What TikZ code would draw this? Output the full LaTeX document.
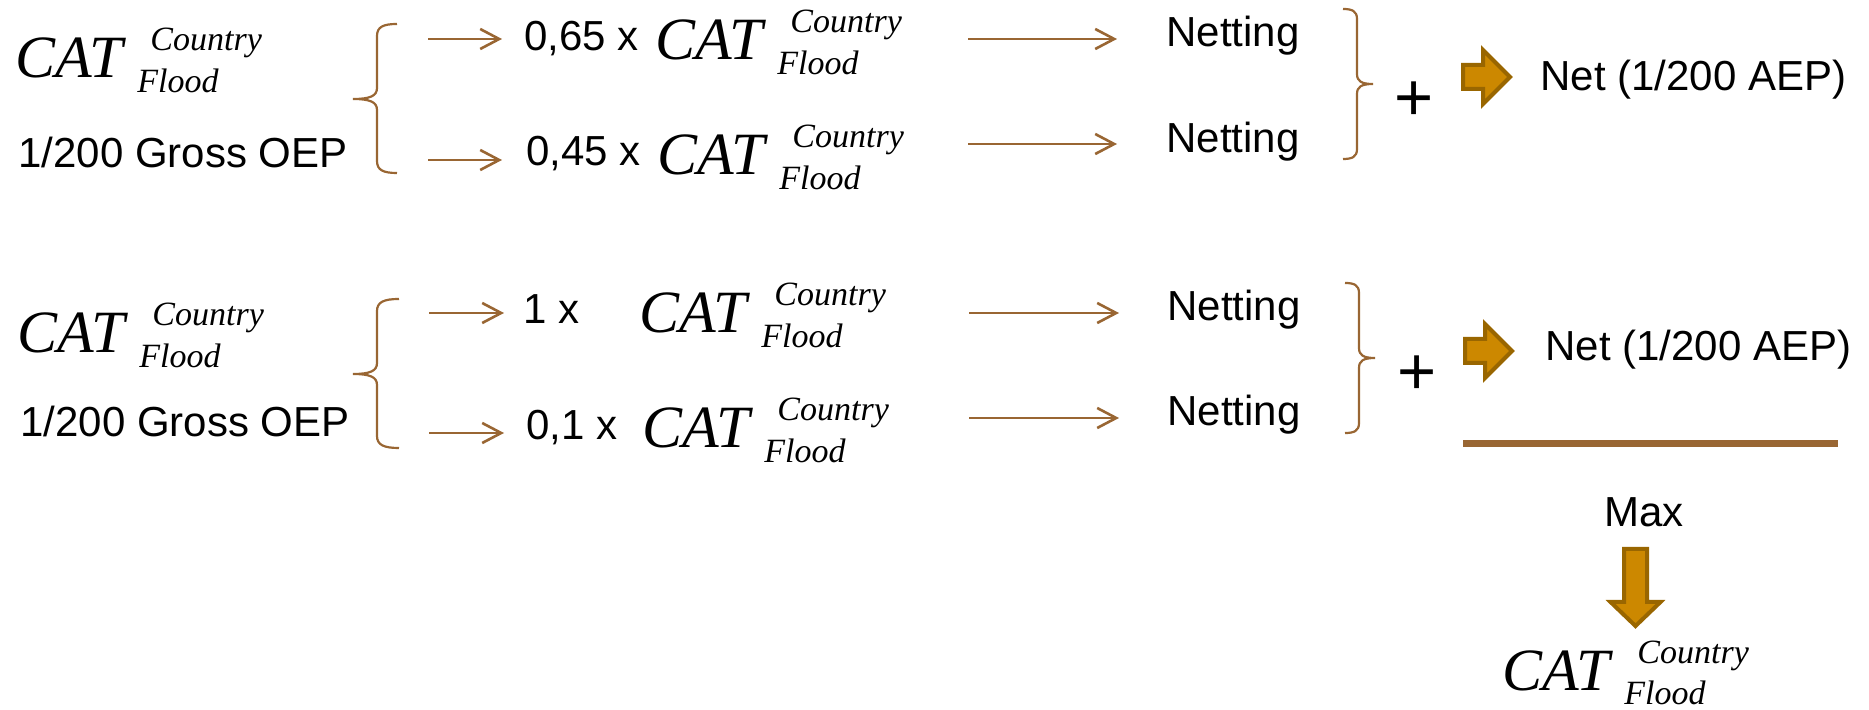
\documentclass[tikz,border=0pt]{standalone}
\usepackage{fontspec}
\setmainfont{Liberation Sans}
\newfontfamily\catfam{Liberation Serif}
\usetikzlibrary{arrows.meta}
\definecolor{brn}{RGB}{153,102,51}
\definecolor{gold}{RGB}{204,136,0}
\definecolor{goldedge}{RGB}{153,102,0}
\newcommand\sansfs{\fontsize{21pt}{25pt}\selectfont}
\newcommand\catbig{\catfam\itshape\fontsize{30pt}{30pt}\selectfont}
\newcommand\catsmall{\catfam\itshape\fontsize{17pt}{17pt}\selectfont}
\newcommand\catexpr{\makebox[0pt][l]{\catbig CAT}\makebox[0pt][l]{\hspace*{67.5pt}\raisebox{13.5pt}{\catsmall Country}}\hspace*{61pt}\raisebox{-7.25pt}{\catsmall Flood}}
\tikzset{
  txt/.style={anchor=base west, inner sep=0pt, font=\sansfs},
  catn/.style={anchor=base west, inner sep=0pt},
  plusn/.style={anchor=base, inner sep=0pt, font=\fontsize{33.5pt}{36pt}\selectfont},
  conn/.style={draw=brn, line width=1.3pt, -{Straight Barb[length=9.5pt,width=10pt]}},
  bracen/.style={draw=brn, line width=1.1pt},
  fatarrow/.style={fill=gold, draw=goldedge, line width=2pt, miter limit=10},
  thickline/.style={draw=brn, line width=3.5pt}
}
\begin{document}
\begin{tikzpicture}[x=0.5pt,y=-0.5pt]
\useasboundingbox (0,0) rectangle (1869,710);

% ---------- row 1 ----------
\node[catn] (cat1) at (15,78) {\catexpr};
\node[txt] (gross1) at (18,168) {1/200 Gross OEP};
\draw[bracen] (397,24) .. controls (383,24) and (377,27) .. (377,36) -- (377,88)
  .. controls (377,96) and (370,99) .. (353,99)
  .. controls (370,99) and (377,102) .. (377,110) -- (377,161)
  .. controls (377,170) and (383,173) .. (397,173);
\coordinate (a1s) at (428,39);  \coordinate (a1e) at (502,39);
\coordinate (a2s) at (428,160); \coordinate (a2e) at (502,160);
\draw[conn] (a1s) -- (a1e);
\draw[conn] (a2s) -- (a2e);
\node[txt] (m65) at (524,51) {0,65 x};
\node[catn] (c65) at (655,60) {\catexpr};
\node[txt] (m45) at (526,166) {0,45 x};
\node[catn] (c45) at (657,175) {\catexpr};
\coordinate (b1s) at (968,39);  \coordinate (b1e) at (1117,39);
\coordinate (b2s) at (968,144); \coordinate (b2e) at (1117,144);
\draw[conn] (b1s) -- (b1e);
\draw[conn] (b2s) -- (b2e);
\node[txt] (net1a) at (1166,47) {Netting};
\node[txt] (net1b) at (1166,153) {Netting};
\draw[bracen] (1343,9) .. controls (1352,9) and (1357,11) .. (1357,19) -- (1357,74)
  .. controls (1357,81) and (1361,84) .. (1373,84)
  .. controls (1361,84) and (1357,87) .. (1357,94) -- (1357,149)
  .. controls (1357,157) and (1352,159) .. (1343,159);
\node[plusn] (plus1) at (1414,121) {+};
\draw[fatarrow, shift={(1463,77)}] (0,-12) -- (20,-12) -- (20,-27) -- (47,0) -- (20,27) -- (20,12) -- (0,12) -- cycle;
\node[txt] (res1) at (1540,91) {Net (1/200 AEP)};

% ---------- row 2 ----------
\node[catn] (cat2) at (17,353) {\catexpr};
\node[txt] (gross2) at (20,437) {1/200 Gross OEP};
\draw[bracen] (399,299) .. controls (384,299) and (377,302) .. (377,311) -- (377,363)
  .. controls (377,371) and (370,374) .. (353,374)
  .. controls (370,374) and (377,377) .. (377,385) -- (377,436)
  .. controls (377,445) and (384,448) .. (399,448);
\coordinate (c1s) at (429,313); \coordinate (c1e) at (504,313);
\coordinate (c2s) at (429,433); \coordinate (c2e) at (504,433);
\draw[conn] (c1s) -- (c1e);
\draw[conn] (c2s) -- (c2e);
\node[txt] (m1) at (523,324) {1 x};
\node[catn] (c1) at (639,333) {\catexpr};
\node[txt] (m01) at (526,440) {0,1 x};
\node[catn] (c01) at (642,448) {\catexpr};
\coordinate (d1s) at (969,313); \coordinate (d1e) at (1119,313);
\coordinate (d2s) at (969,418); \coordinate (d2e) at (1119,418);
\draw[conn] (d1s) -- (d1e);
\draw[conn] (d2s) -- (d2e);
\node[txt] (net2a) at (1167,321) {Netting};
\node[txt] (net2b) at (1167,426) {Netting};
\draw[bracen] (1345,283) .. controls (1354,283) and (1359,285) .. (1359,293) -- (1359,348)
  .. controls (1359,355) and (1363,358) .. (1375,358)
  .. controls (1363,358) and (1359,361) .. (1359,368) -- (1359,423)
  .. controls (1359,431) and (1354,433) .. (1345,433);
\node[plusn] (plus2) at (1417,395) {+};
\draw[fatarrow, shift={(1465,351)}] (0,-12) -- (20,-12) -- (20,-27) -- (47,0) -- (20,27) -- (20,12) -- (0,12) -- cycle;
\node[txt] (res2) at (1545,361) {Net (1/200 AEP)};

% ---------- max ----------
\coordinate (l1) at (1463,444); \coordinate (l2) at (1838,444);
\draw[thickline] (l1) -- (l2);
\node[txt] (max) at (1604,527) {Max};
\draw[fatarrow, shift={(1635.5,549)}] (-11.5,0) -- (11.5,0) -- (11.5,53) -- (25,53) -- (0,77) -- (-25,53) -- (-11.5,53) -- cycle;
\node[catn] (catF) at (1502,690) {\catexpr};
\end{tikzpicture}
\end{document}
